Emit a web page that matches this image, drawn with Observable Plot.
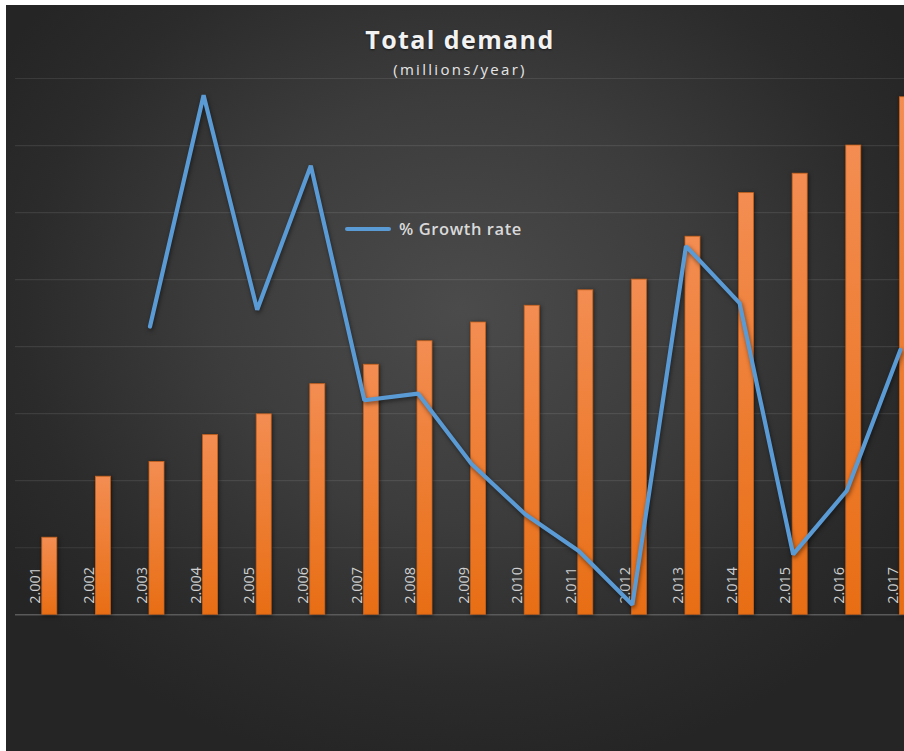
<!DOCTYPE html>
<html>
<head>
<meta charset="utf-8">
<script src="https://cdn.jsdelivr.net/npm/d3@7"></script>
<script src="https://cdn.jsdelivr.net/npm/@observablehq/plot@0.6"></script>
<style>
  html, body { margin: 0; padding: 0; background: #ffffff; overflow: hidden; }
  #chart {
    position: absolute; left: 6px; top: 5px; width: 908px; height: 760px; overflow: hidden;
    background: radial-gradient(ellipse 60% 62% at 50% 40%, #4b4b4b 0%, #3c3c3c 45%, #2b2b2b 80%, #252525 100%);
    font-family: "Open Sans", "Noto Sans", sans-serif;
  }
  #title {
    position: absolute; left: 0; width: 100%; top: 17px; text-align: center;
    color: #f2f2f2; font-size: 25px; font-weight: 700; letter-spacing: 1.4px;
    text-shadow: 0 1px 2px rgba(0,0,0,0.6);
  }
  #subtitle {
    position: absolute; left: 0; width: 100%; top: 54px; text-align: center;
    color: #e6e6e6; font-size: 15px; letter-spacing: 2.3px;
  }
  .layer { position: absolute; left: 0; top: 0; width: 940px; height: 640px; }
  .layer svg { overflow: visible; max-width: none !important; }
  #legend {
    position: absolute; left: 339px; top: 212px; display: flex; align-items: center;
    color: #d9d9d9; font-size: 16.5px; font-weight: 600; letter-spacing: 0.6px;
  }
  #legend .sw { width: 46px; height: 4px; background: #5b9bd5; border-radius: 2px; margin-right: 8px; }
  g[aria-label="bar"] rect { filter: drop-shadow(1px 1px 2px rgba(0,0,0,0.55)); }
  g[aria-label="line"] path { filter: drop-shadow(1px 2px 2px rgba(0,0,0,0.5)); }
</style>
</head>
<body>
<div id="chart">
  <div id="title">Total demand</div>
  <div id="subtitle">(millions/year)</div>
  <div id="bars" class="layer"></div>
  <div id="lines" class="layer"></div>
  <div id="legend"><div class="sw"></div><span>% Growth rate</span></div>
</div>
<script>
// ---- data ----
const years = ["2.001","2.002","2.003","2.004","2.005","2.006","2.007","2.008","2.009",
               "2.010","2.011","2.012","2.013","2.014","2.015","2.016","2.017"];
const demand = [11.5, 20.6, 22.8, 26.8, 29.9, 34.4, 37.3, 40.8, 43.6,
                46.1, 48.4, 50.0, 56.4, 62.9, 65.8, 70.0, 77.2];
const growthYears = ["2.003","2.004","2.005","2.006","2.007","2.008","2.009",
                     "2.010","2.011","2.012","2.013","2.014","2.015","2.016","2.017"];
const growth = [8.6, 15.5, 9.1, 13.4, 6.4, 6.6, 4.5, 3.0, 1.9, 0.3, 11.0, 9.3, 1.8, 3.7, 7.9];
const gridTicks = [0, 10, 20, 30, 40, 50, 60, 70, 80];

const barData = years.map((y, i) => ({year: y, demand: demand[i]}));
const lineData = growthYears.map((y, i) => ({year: y, growth: growth[i]}));

// shared frame
const frame = {
  width: 935.2, height: 629.3,
  marginLeft: 9, marginRight: 0, marginTop: 73, marginBottom: 20
};
const xOpts = {type: "band", domain: years, paddingInner: 0.72, paddingOuter: 0.5, round: false, axis: null};
const svgStyle = {background: "transparent", overflow: "visible", maxWidth: "none"};

const barPlot = Plot.plot({
  ...frame,
  style: svgStyle,
  x: xOpts,
  y: {domain: [0, 80], axis: null},
  marks: [
    Plot.ruleY(gridTicks.slice(1), {stroke: "#ffffff", strokeOpacity: 0.09, strokeWidth: 1.2}),
    Plot.ruleY([0], {stroke: "#5a5a5a", strokeWidth: 1.5}),
    Plot.barY(barData, {x: "year", y: "demand", fill: "url(#barGrad)", stroke: "#c9621c", strokeWidth: 0.8}),
    Plot.text(barData, {
      x: "year", y: 0, text: "year", rotate: -90, textAnchor: "start", lineAnchor: "middle",
      dx: -14.5, dy: -11, fill: "#cfcfcf", fontSize: 14.5, fontFamily: "Open Sans, sans-serif"
    })
  ]
});
// gradient for bars
const svgB = d3.select(barPlot);
const grad = svgB.insert("defs", ":first-child").append("linearGradient")
  .attr("id", "barGrad").attr("x1", 0).attr("y1", 0).attr("x2", 0).attr("y2", 1);
grad.append("stop").attr("offset", "0%").attr("stop-color", "#f38d52");
grad.append("stop").attr("offset", "100%").attr("stop-color", "#e86e14");
document.getElementById("bars").appendChild(barPlot);

const linePlot = Plot.plot({
  ...frame,
  style: svgStyle,
  x: xOpts,
  y: {domain: [0, 16], axis: null},
  marks: [
    Plot.lineY(lineData, {x: "year", y: "growth", stroke: "#5b9bd5", strokeWidth: 4.2,
      strokeLinejoin: "miter", strokeLinecap: "round", dx: -7})
  ]
});
document.getElementById("lines").appendChild(linePlot);
</script>
</body>
</html>
